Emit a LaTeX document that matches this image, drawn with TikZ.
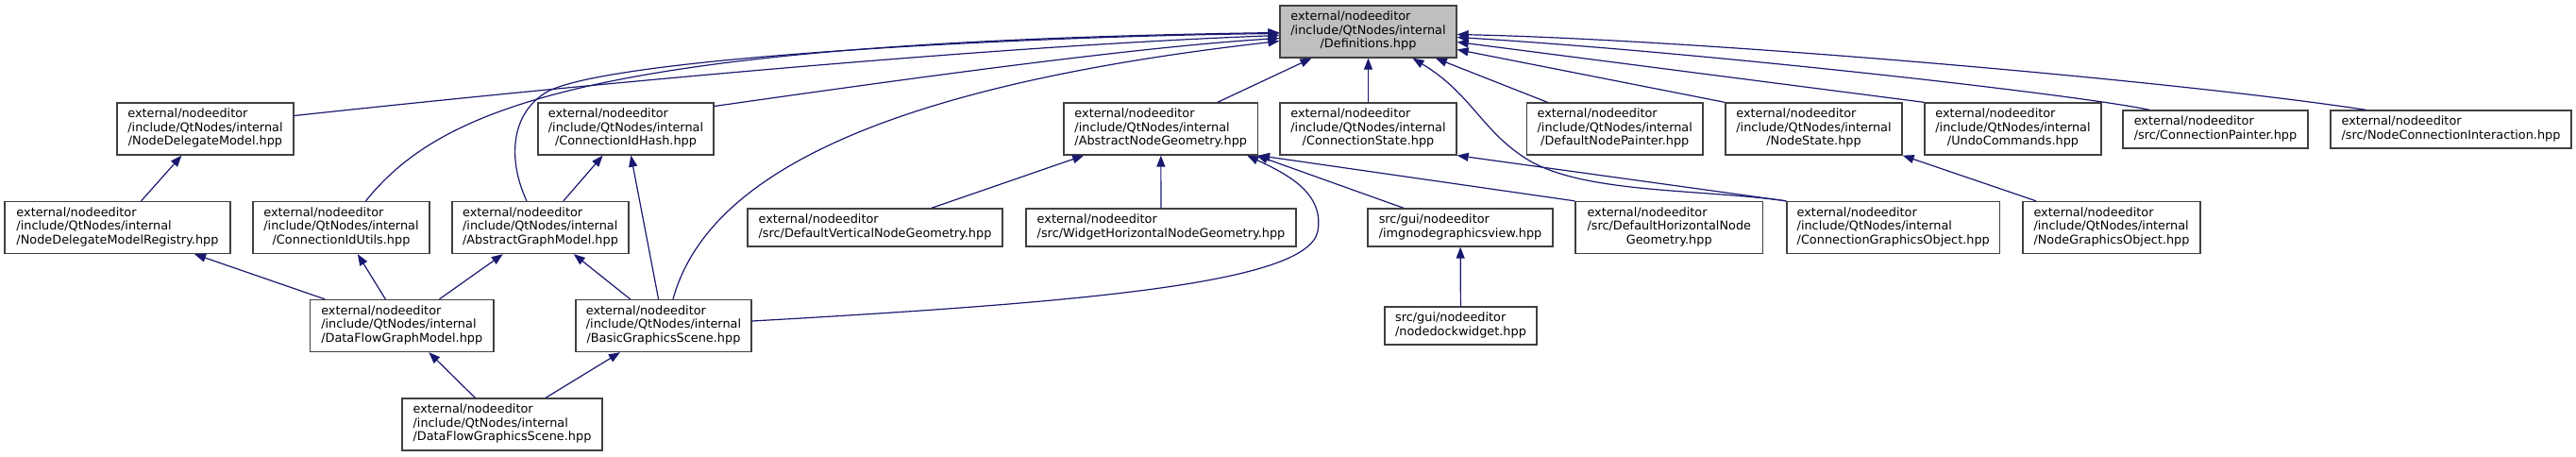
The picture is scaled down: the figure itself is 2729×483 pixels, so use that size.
\documentclass[tikz,border=0pt]{standalone}
\usepackage{fontspec}
\setmainfont{DejaVu Sans}
\usetikzlibrary{arrows.meta}
\definecolor{edgeblue}{RGB}{25,25,112}
\newcommand{\extne}{external/nodeeditor}
\newcommand{\qtn}{/include/QtNodes/internal}
% first lines flush left, last line centred
\newcommand{\fthree}[3]{\begin{tabular}{@{}l@{}}#1\\#2\\\multicolumn{1}{@{}c@{}}{#3}\end{tabular}}
\newcommand{\ftwo}[2]{\begin{tabular}{@{}l@{}}#1\\\multicolumn{1}{@{}c@{}}{#2}\end{tabular}}
\begin{document}
\begin{tikzpicture}[x=1pt, y=-1pt,
    file/.style={draw=black!75, line width=1.3pt, fill=white, inner xsep=2pt, inner ysep=2pt,
        font=\fontsize{12.85}{14.5}\selectfont, minimum height=55},
    short/.style={minimum height=40},
    dep/.style={edgeblue, line width=1.2pt, -{Triangle[length=12pt,width=9pt]}}]
    \useasboundingbox (0,0) rectangle (2729,483);
    % top
    \node[file, fill=black!25, minimum width=187] (defs) at (1449.5,33.5) {\fthree{\extne}{\qtn}{/Definitions.hpp}};
    % row 1
    \node[file, minimum width=187] (ndm) at (217.5,136.5) {\fthree{\extne}{\qtn}{/NodeDelegateModel.hpp}};
    \node[file, minimum width=186] (cidh) at (663,136.5) {\fthree{\extne}{\qtn}{/ConnectionIdHash.hpp}};
    \node[file, minimum width=205.5] (ang) at (1229.75,136.5) {\fthree{\extne}{\qtn}{/AbstractNodeGeometry.hpp}};
    \node[file, minimum width=187] (cst) at (1449.5,136.5) {\fthree{\extne}{\qtn}{/ConnectionState.hpp}};
    \node[file, minimum width=186.5] (dnp) at (1710.75,136.5) {\fthree{\extne}{\qtn}{/DefaultNodePainter.hpp}};
    \node[file, minimum width=187] (nst) at (1921.5,136.5) {\fthree{\extne}{\qtn}{/NodeState.hpp}};
    \node[file, minimum width=187] (undo) at (2132.5,136.5) {\fthree{\extne}{\qtn}{/UndoCommands.hpp}};
    \node[file, short, minimum width=196] (cpt) at (2347,137) {\ftwo{\extne}{/src/ConnectionPainter.hpp}};
    \node[file, short, minimum width=255] (nci) at (2596.5,137) {\ftwo{\extne}{/src/NodeConnectionInteraction.hpp}};
    % row 2
    \node[file, minimum width=239] (reg) at (124.5,241) {\fthree{\extne}{\qtn}{/NodeDelegateModelRegistry.hpp}};
    \node[file, minimum width=187] (ciu) at (361.5,241) {\fthree{\extne}{\qtn}{/ConnectionIdUtils.hpp}};
    \node[file, minimum width=187] (agm) at (572.5,241) {\fthree{\extne}{\qtn}{/AbstractGraphModel.hpp}};
    \node[file, short, minimum width=270] (dvg) at (927,241) {\ftwo{\extne}{/src/DefaultVerticalNodeGeometry.hpp}};
    \node[file, short, minimum width=286] (whg) at (1230,241) {\ftwo{\extne}{/src/WidgetHorizontalNodeGeometry.hpp}};
    \node[file, short, minimum width=196] (igv) at (1547,241) {\ftwo{src/gui/nodeeditor}{/imgnodegraphicsview.hpp}};
    \node[file, minimum width=198.5] (dhg) at (1768.25,241) {\fthree{\extne}{/src/DefaultHorizontalNode}{Geometry.hpp}};
    \node[file, minimum width=225.5] (cgo) at (2005.75,241) {\fthree{\extne}{\qtn}{/ConnectionGraphicsObject.hpp}};
    \node[file, minimum width=188] (ngo) at (2237,241) {\fthree{\extne}{\qtn}{/NodeGraphicsObject.hpp}};
    % row 3
    \node[file, minimum width=194.5] (dfgm) at (425.75,345) {\fthree{\extne}{\qtn}{/DataFlowGraphModel.hpp}};
    \node[file, minimum width=186] (bgs) at (703,345) {\fthree{\extne}{\qtn}{/BasicGraphicsScene.hpp}};
    \node[file, short, minimum width=161] (ndw) at (1547.5,345) {\ftwo{src/gui/nodeeditor}{/nodedockwidget.hpp}};
    % row 4
    \node[file, minimum width=212] (dfgs) at (532,449.5) {\fthree{\extne}{\qtn}{/DataFlowGraphicsScene.hpp}};

    % into Definitions from the left
    \draw[dep] ([yshift=14]ndm.east) .. controls (800,70) and (1150,45) .. ([yshift=-4]defs.west);
    \draw[dep] ([xshift=26]ciu.north) .. controls (470,110) and (640,45) .. ([yshift=-1]defs.west);
    \draw[dep] ([xshift=-14.5]agm.north) .. controls (538,170) and (540,120) .. (580,97)
        .. controls (650,60) and (1100,38) .. ([yshift=-2]defs.west);
    \draw[dep] ([yshift=24]cidh.east) .. controls (950,85) and (1200,50) .. ([yshift=-7]defs.west);
    \draw[dep] ([xshift=10]bgs.north) .. controls (745,200) and (900,95) .. ([yshift=-10]defs.west);
    % into Definitions from below
    \draw[dep] (ang) -- (defs);
    \draw[dep] (cst) -- (defs);
    \draw[dep] (dnp) -- (defs);
    \draw[dep] (cgo.north west) .. controls (1800,200) and (1680,205) .. (1620,170)
        .. controls (1570,140) and (1560,100) .. ([xshift=47]defs.south);
    % into Definitions from the right
    \draw[dep] (nst.north west) -- ([yshift=-19]defs.east);
    \draw[dep] (undo.north west) -- ([yshift=-11]defs.east);
    \draw[dep] ([xshift=-70]cpt.north) .. controls (2200,100) and (1800,55) .. ([yshift=-6]defs.east);
    \draw[dep] ([xshift=-90]nci.north) .. controls (2300,85) and (1800,42) .. ([yshift=-3]defs.east);
    % AbstractNodeGeometry
    \draw[dep] (dvg) -- (ang);
    \draw[dep] (whg) -- (ang);
    \draw[dep] ([xshift=-60]igv.north) -- ([xshift=-2]ang.south east);
    \draw[dep] (dhg.north west) -- (ang.south east);
    \draw[dep] ([yshift=5]bgs.east) .. controls (1150,320) and (1385,300) .. (1396,245)
        .. controls (1403,205) and (1365,185) .. ([xshift=-12]ang.south east);
    % rest
    \draw[dep] (cgo.north west) -- (cst.south east);
    \draw[dep] ([xshift=-80]ngo.north) -- (nst.south east);
    \draw[dep] (ndw) -- (igv);
    \draw[dep] (reg) -- (ndm);
    \draw[dep] (agm) -- (cidh);
    \draw[dep] (bgs) -- (cidh);
    \draw[dep] (dfgm) -- (reg);
    \draw[dep] (dfgm) -- (ciu);
    \draw[dep] (dfgm) -- (agm);
    \draw[dep] (bgs) -- (agm);
    \draw[dep] (dfgs) -- (dfgm);
    \draw[dep] (dfgs) -- (bgs);
\end{tikzpicture}
\end{document}
